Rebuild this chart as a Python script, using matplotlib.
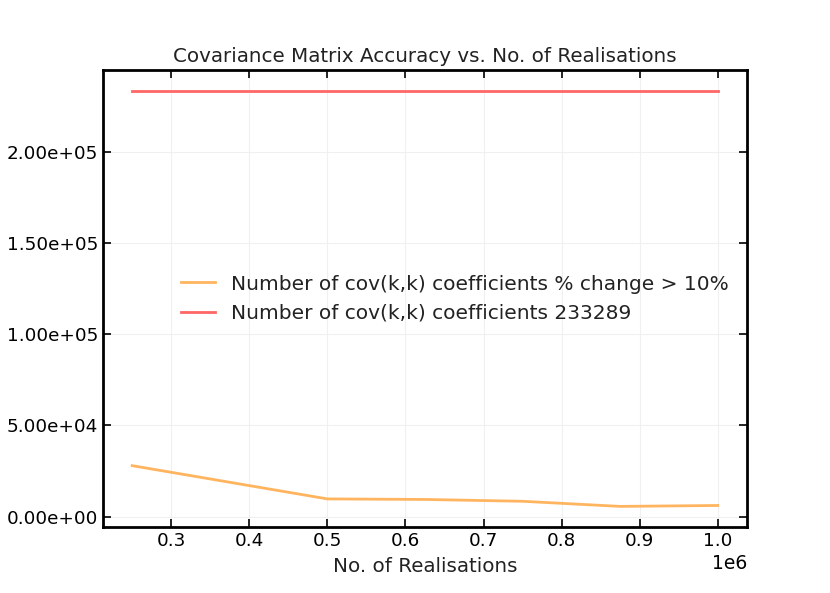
import matplotlib
matplotlib.use("Agg")
import matplotlib.pyplot as plt

# nombre de realisations et nombre de coefficients
realisations = [250000, 500000, 625000, 750000, 875000, 1000000]
coef_change = [28000, 9800, 9500, 8500, 5700, 6200]
coef_total = [233289] * len(realisations)

orange = "#ffb55f"
rouge = "#ff6666"
texte = "#222222"

plt.rcParams["font.family"] = "DejaVu Sans"
plt.rcParams["text.color"] = texte
plt.rcParams["axes.labelcolor"] = texte

fig = plt.figure(figsize=(8.3, 5.93), dpi=100)
ax = fig.add_axes([0.124, 0.111, 0.776, 0.771])

ax.plot(realisations, coef_change, color=orange, lw=2,
        label="Number of cov(k,k) coefficients % change > 10%")
ax.plot(realisations, coef_total, color=rouge, lw=2,
        label="Number of cov(k,k) coefficients 233289")

ax.set_title("Covariance Matrix Accuracy vs. No. of Realisations", fontsize=14.3, color=texte)
ax.set_xlabel("No. of Realisations", fontsize=14.3, labelpad=5)
# l'etiquette de l'axe y sort presque entierement de l'image, comme sur l'original
ax.set_ylabel("Number of coefficients", fontsize=14)
ax.yaxis.set_label_coords(-0.172, 0.5)
ax.yaxis.set_major_formatter(matplotlib.ticker.FormatStrFormatter("%.2e"))
ax.xaxis.get_offset_text().set_fontsize(13.5)

ax.grid(color="#f0f0f0", lw=0.8)
ax.tick_params(direction="in", top=True, right=True, length=6, width=1.2, labelsize=13.2)
for s in ax.spines.values():
    s.set_linewidth(2)

ax.legend(loc="center right", frameon=False, fontsize=14.5, handlelength=1.7)

fig.savefig("out.png", dpi=100)
